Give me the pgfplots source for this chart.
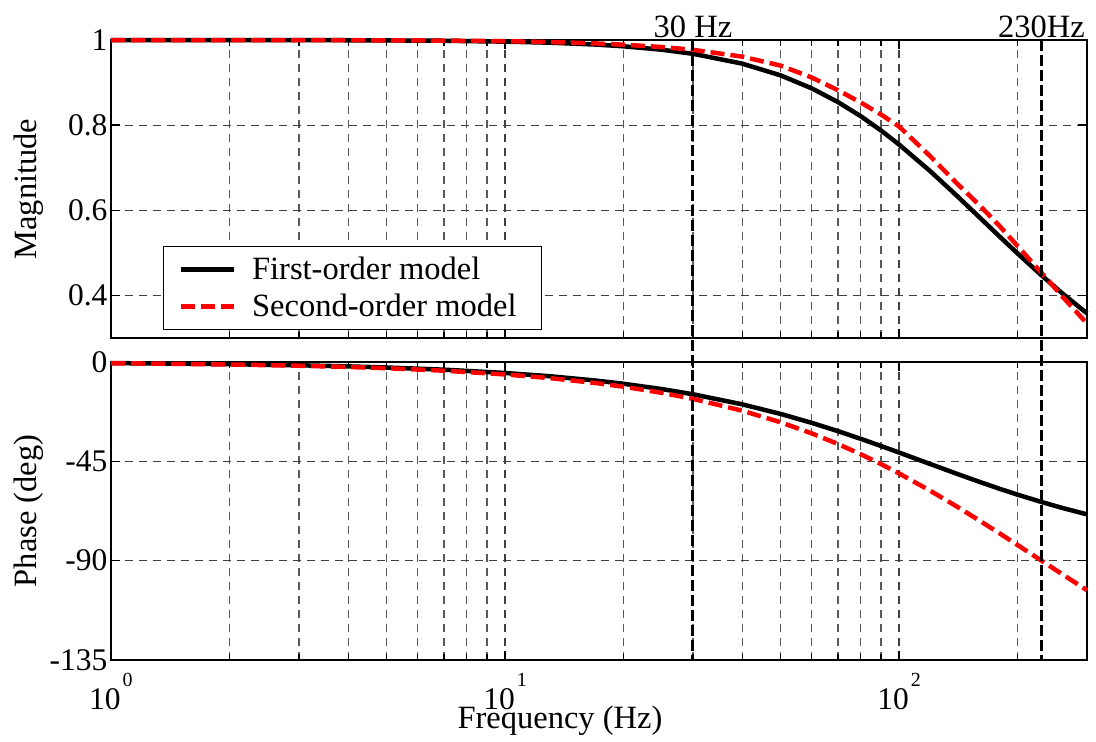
\documentclass[border=0pt]{standalone}
\usepackage{fontspec}
\setmainfont{Liberation Serif}
\usepackage{pgfplots}
\pgfplotsset{compat=1.18}
\usepackage{pgfplotstable}

\newcommand\fs{\fontsize{32.5}{38}\selectfont}
\newcommand\tfs{\fontsize{31.5}{36}\selectfont}
% decade label: 10 with a raised exponent
\newcommand\pw[1]{10\kern2pt\raisebox{23pt}{\fontsize{20}{20}\selectfont #1}}

% frequency response: magnitude
\pgfplotstableread{
f     first   second
1     1.0000  1.0000
1.5   0.9999  1.0000
2     0.9998  0.9999
3     0.9997  0.9997
4     0.9994  0.9995
5     0.9991  0.9993
7     0.9982  0.9986
10    0.9962  0.9972
13    0.9937  0.9953
17    0.9893  0.9920
20    0.9852  0.9890
25    0.9772  0.9835
30    0.9676  0.9770
40    0.9445  0.9610
50    0.9171  0.9400
60    0.8866  0.9120
70    0.8542  0.8820
80    0.8209  0.8530
90    0.7875  0.8250
100   0.7546  0.7970
120   0.6919  0.7270
140   0.6347  0.6640
160   0.5836  0.6120
180   0.5384  0.5630
200   0.4985  0.5160
230   0.4472  0.4530
260   0.4045  0.3970
300   0.3579  0.3340
}\magdata

% frequency response: phase in degrees
\pgfplotstableread{
f     first    second
1     -0.50    -0.56
1.5   -0.75    -0.84
2     -1.00    -1.13
3     -1.49    -1.69
4     -1.99    -2.25
5     -2.49    -2.81
7     -3.48    -3.94
10    -4.97    -5.62
13    -6.45    -7.30
17    -8.41    -9.53
20    -9.87    -11.20
25    -12.26   -13.96
30    -14.62   -16.69
40    -19.18   -22.06
50    -23.50   -27.28
60    -27.55   -32.32
70    -31.33   -37.16
80    -34.82   -41.80
90    -38.05   -46.24
100   -41.01   -50.46
120   -46.22   -58.32
140   -50.60   -65.41
160   -54.29   -71.83
180   -57.43   -77.64
200   -60.10   -82.93
230   -63.43   -90.00
260   -66.14   -96.21
300   -69.03   -103.38
}\phasedata

\tikzset{
  firstorder/.style={black, line width=4.5pt, line join=round},
  secondorder/.style={red, line width=4.5pt, dash pattern=on 14pt off 6pt},
  marker line/.style={black, line width=3pt, dash pattern=on 11pt off 4pt},
}

\pgfplotsset{
  every axis/.append style={
    width=976pt, height=298pt, scale only axis,
    xmin=1, xmax=300,
    xtick={1,10,100},
    minor xtick={2,3,4,5,6,7,8,9,20,30,40,50,60,70,80,90,200,300},
    grid=both,
    major grid style={dash pattern=on 8pt off 6pt, line width=1.2pt, black!75},
    minor grid style={dash pattern=on 8pt off 6pt, line width=1.2pt, black!65},
    axis line style={line width=1.8pt, black},
    tick align=inside,
    major tick length=9pt, minor tick length=6pt,
    tick style={black, line width=1.3pt},
    tick label style={font=\tfs},
    xticklabel style={anchor=base, yshift=-49pt},
    ylabel style={at={(axis description cs:-0.0768,0.5)}, rotate=0, anchor=base, font=\fs},
    xlabel style={at={(axis description cs:0.46,-0.2315)}, anchor=base, font=\fs},
    clip=false,
  },
}

\begin{document}
\begin{tikzpicture}
\useasboundingbox (-111pt,-82pt) rectangle (985pt,660pt);

% phase
\begin{semilogxaxis}[name=phase, at={(0pt,0pt)}, anchor=south west,
  ymin=-135, ymax=0,
  ytick={-135,-90,-45,0}, yticklabels={-135,-90,-45,0},
  xticklabels={\pw{0},\pw{1},\pw{2}},
  xlabel={Frequency (Hz)}, ylabel={Phase (deg)}]
  \addplot[firstorder] table[x=f, y=first] {\phasedata};
  \addplot[secondorder] table[x=f, y=second] {\phasedata};
\end{semilogxaxis}

% magnitude
\begin{semilogxaxis}[name=mag, at={(0pt,322pt)}, anchor=south west,
  ymin=0.3, ymax=1,
  ytick={0.4,0.6,0.8,1}, yticklabels={0.4,0.6,0.8,1},
  xticklabels={},
  ylabel={Magnitude},
  legend image code/.code={\draw[#1] (0pt,0pt) -- (53pt,0pt);},
  legend style={at={(axis description cs:0.0533,0.3087)}, anchor=north west,
    draw=black, line width=1.2pt, fill=white, font=\fs,
    inner xsep=15pt, inner ysep=4.5pt, row sep=0pt, column sep=14pt,
    nodes={text height=26pt, text depth=7pt, inner sep=2pt}},
  legend cell align=left]
  \addplot[firstorder] table[x=f, y=first] {\magdata};
  \addlegendentry{First-order model}
  \addplot[secondorder] table[x=f, y=second] {\magdata};
  \addlegendentry{Second-order model\hspace*{8pt}}
  % corner frequencies
  \draw[marker line] (axis cs:30,1) -- ++(0pt,-620pt);
  \draw[marker line] (axis cs:230,1) -- ++(0pt,-620pt);
  \node[anchor=base, yshift=3pt, font=\fs] at (axis cs:30,1) {30 Hz};
  \node[anchor=base, yshift=3pt, font=\fs] at (axis cs:230,1) {230Hz};
\end{semilogxaxis}
\end{tikzpicture}
\end{document}
